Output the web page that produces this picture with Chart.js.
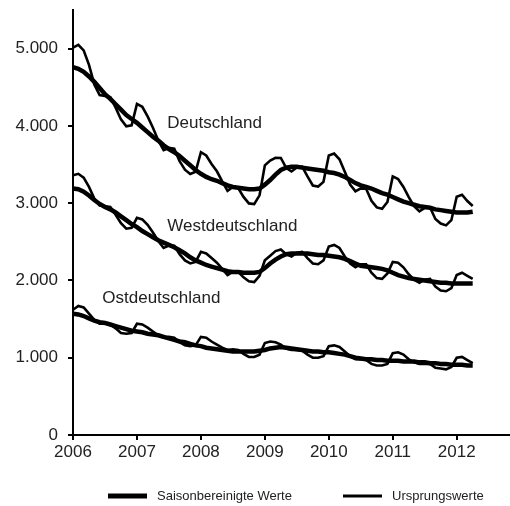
<!DOCTYPE html>
<html>
<head>
<meta charset="utf-8">
<script src="https://cdn.jsdelivr.net/npm/chart.js@4.4.1/dist/chart.umd.min.js"></script>
<style>
  html, body { margin: 0; padding: 0; background: #fff; }
</style>
</head>
<body>
<canvas id="myChart" width="510" height="506"></canvas>
<script>
// monthly values, Jan 2006 - Apr 2012, in thousands
let startYear = 2006;
let yTicks = [0, 1000, 2000, 3000, 4000, 5000];
let seriesNames = ['Deutschland', 'Westdeutschland', 'Ostdeutschland'];
let legendNames = ['Saisonbereinigte Werte', 'Ursprungswerte'];

let deOrig = [
  5012, 5048, 4977, 4790, 4537, 4399, 4386, 4372, 4237, 4084, 3995, 4008,
  4284, 4247, 4124, 3976, 3812, 3687, 3715, 3705, 3544, 3434, 3379, 3406,
  3659, 3617, 3507, 3413, 3283, 3160, 3210, 3196, 3081, 2997, 2988, 3102,
  3489, 3552, 3586, 3585, 3458, 3410, 3462, 3472, 3346, 3229, 3215, 3276,
  3617, 3643, 3568, 3406, 3242, 3153, 3192, 3188, 3031, 2945, 2927, 3016,
  3346, 3313, 3210, 3078, 2960, 2893, 2939, 2945, 2796, 2737, 2713, 2780,
  3084, 3110, 3028, 2963
];
let deSA = [
  4760, 4740, 4700, 4640, 4570, 4490, 4410, 4350, 4280, 4210, 4140, 4090,
  4040, 3980, 3920, 3860, 3810, 3750, 3700, 3660, 3610, 3550, 3490, 3430,
  3380, 3340, 3310, 3290, 3260, 3230, 3210, 3200, 3190, 3180, 3180, 3190,
  3240, 3300, 3370, 3430, 3460, 3470, 3470, 3460, 3450, 3440, 3430, 3420,
  3400, 3390, 3370, 3340, 3300, 3260, 3230, 3210, 3190, 3160, 3130, 3110,
  3080, 3050, 3020, 3000, 2980, 2960, 2950, 2940, 2920, 2910, 2900, 2890,
  2880, 2880, 2880, 2890
];
let westOrig = [
  3360, 3380, 3330, 3210, 3060, 2970, 2960, 2950, 2850, 2740, 2670, 2680,
  2810, 2790, 2720, 2620, 2510, 2420, 2450, 2450, 2340, 2260, 2220, 2240,
  2370, 2350, 2290, 2230, 2150, 2070, 2110, 2110, 2040, 1990, 1980, 2060,
  2260, 2320, 2380, 2400, 2340, 2310, 2360, 2370, 2290, 2220, 2210, 2260,
  2440, 2460, 2420, 2310, 2220, 2170, 2210, 2210, 2100, 2030, 2020, 2090,
  2240, 2230, 2170, 2080, 2010, 1970, 2010, 2020, 1920, 1870, 1860, 1900,
  2070, 2100, 2060, 2020
];
let westSA = [
  3190, 3180, 3150, 3100, 3040, 2990, 2950, 2920, 2880, 2830, 2780, 2730,
  2690, 2640, 2600, 2560, 2520, 2490, 2460, 2430, 2390, 2350, 2300, 2260,
  2230, 2200, 2180, 2160, 2140, 2120, 2110, 2110, 2100, 2100, 2100, 2110,
  2160, 2220, 2270, 2310, 2340, 2350, 2350, 2350, 2350, 2340, 2330, 2330,
  2320, 2310, 2300, 2280, 2250, 2220, 2190, 2180, 2170, 2160, 2150, 2130,
  2100, 2070, 2050, 2030, 2020, 2010, 2000, 1990, 1980, 1970, 1970, 1960,
  1960, 1960, 1960, 1960
];
let eastOrig = [
  1620, 1670, 1650, 1570, 1490, 1440, 1440, 1430, 1380, 1320, 1310, 1320,
  1440, 1430, 1390, 1340, 1290, 1260, 1270, 1260, 1200, 1160, 1150, 1160,
  1270, 1260, 1210, 1170, 1130, 1100, 1110, 1100, 1050, 1010, 1010, 1040,
  1190, 1210, 1200, 1170, 1120, 1100, 1100, 1090, 1040, 1000, 1000, 1020,
  1150, 1160, 1140, 1080, 1020, 980, 980, 970, 920, 900, 900, 920,
  1060, 1070, 1040, 980, 940, 920, 920, 920, 870, 860, 850, 880,
  1000, 1010, 970, 930
];
let eastSA = [
  1570, 1560, 1540, 1510, 1480, 1460, 1450, 1430, 1410, 1390, 1370, 1350,
  1340, 1330, 1310, 1300, 1290, 1270, 1250, 1230, 1210, 1200, 1180, 1160,
  1150, 1130, 1120, 1110, 1100, 1090, 1080, 1080, 1080, 1080, 1080, 1090,
  1100, 1120, 1130, 1140, 1130, 1120, 1110, 1100, 1090, 1080, 1080, 1070,
  1070, 1060, 1050, 1040, 1020, 1000, 990, 980, 980, 970, 970, 960,
  960, 960, 950, 950, 950, 940, 940, 930, 930, 920, 920, 910,
  910, 910, 900, 900
];

const FONT = '"Liberation Sans", Arial, sans-serif';
const TXT = '#222';

function toPoints(arr) {
  return arr.map((v, i) => ({ x: i, y: v }));
}

function thick(arr) {
  return { data: toPoints(arr), borderColor: '#000', borderWidth: 4.5, pointRadius: 0, tension: 0 };
}
function thin(arr) {
  return { data: toPoints(arr), borderColor: '#000', borderWidth: 2.6, pointRadius: 0, tension: 0 };
}

// region names + legend
const textPlugin = {
  id: 'texts',
  afterDraw(chart) {
    const ctx = chart.ctx;
    const xs = chart.scales.x, ys = chart.scales.y;
    const anchors = [[17.7, 4040], [17.7, 2700], [5.5, 1770]];
    ctx.save();
    ctx.fillStyle = TXT;
    ctx.font = '17px ' + FONT;
    ctx.textBaseline = 'middle';
    ctx.textAlign = 'left';
    seriesNames.forEach((name, i) => {
      ctx.fillText(name, xs.getPixelForValue(anchors[i][0]), ys.getPixelForValue(anchors[i][1]));
    });

    const ly = 496;
    ctx.strokeStyle = '#000';
    ctx.lineCap = 'butt';
    ctx.lineWidth = 5;
    ctx.beginPath(); ctx.moveTo(108, ly); ctx.lineTo(147, ly); ctx.stroke();
    ctx.lineWidth = 3;
    ctx.beginPath(); ctx.moveTo(343, ly); ctx.lineTo(382, ly); ctx.stroke();
    ctx.font = '13px ' + FONT;
    ctx.fillText(legendNames[0], 157, ly);
    ctx.fillText(legendNames[1], 392, ly);
    ctx.restore();
  }
};

let ctx = document.getElementById('myChart').getContext('2d');

let chart = new Chart(ctx, {
  type: 'line',
  data: {
    datasets: [
      thin(deOrig), thick(deSA),
      thin(westOrig), thick(westSA),
      thin(eastOrig), thick(eastSA)
    ]
  },
  options: {
    responsive: false,
    animation: false,
    devicePixelRatio: 1,
    layout: { padding: { top: 10, right: 0, left: 0, bottom: 0 } },
    plugins: {
      legend: { display: false },
      tooltip: { enabled: false }
    },
    scales: {
      x: {
        type: 'linear',
        min: 0,
        max: 82,
        afterBuildTicks: s => { s.ticks = s.ticks.filter(t => t.value % 12 === 0); },
        afterFit: s => { s.height = 71; s.paddingLeft = 0; s.paddingRight = 0; },
        ticks: {
          stepSize: 12,
          maxRotation: 0,
          autoSkip: false,
          padding: 2,
          color: TXT,
          font: { family: FONT, size: 17 },
          callback: v => String(startYear + v / 12)
        },
        grid: { drawOnChartArea: false, drawTicks: true, tickLength: 5, lineWidth: 2, color: '#000' },
        border: { display: true, color: '#000', width: 2 }
      },
      y: {
        type: 'linear',
        min: 0,
        max: 5500,
        afterBuildTicks: s => { s.ticks = yTicks.map(v => ({ value: v })); },
        afterFit: s => { s.width = 73; s.paddingTop = 0; s.paddingBottom = 0; },
        ticks: {
          stepSize: 1000,
          padding: 10,
          color: TXT,
          font: { family: FONT, size: 17 },
          callback: v => v === 0 ? '0' : (v / 1000) + '.000'
        },
        grid: { drawOnChartArea: false, drawTicks: true, tickLength: 5, lineWidth: 2, color: '#000' },
        border: { display: true, color: '#000', width: 2 }
      }
    }
  },
  plugins: [textPlugin]
});
</script>
</body>
</html>
